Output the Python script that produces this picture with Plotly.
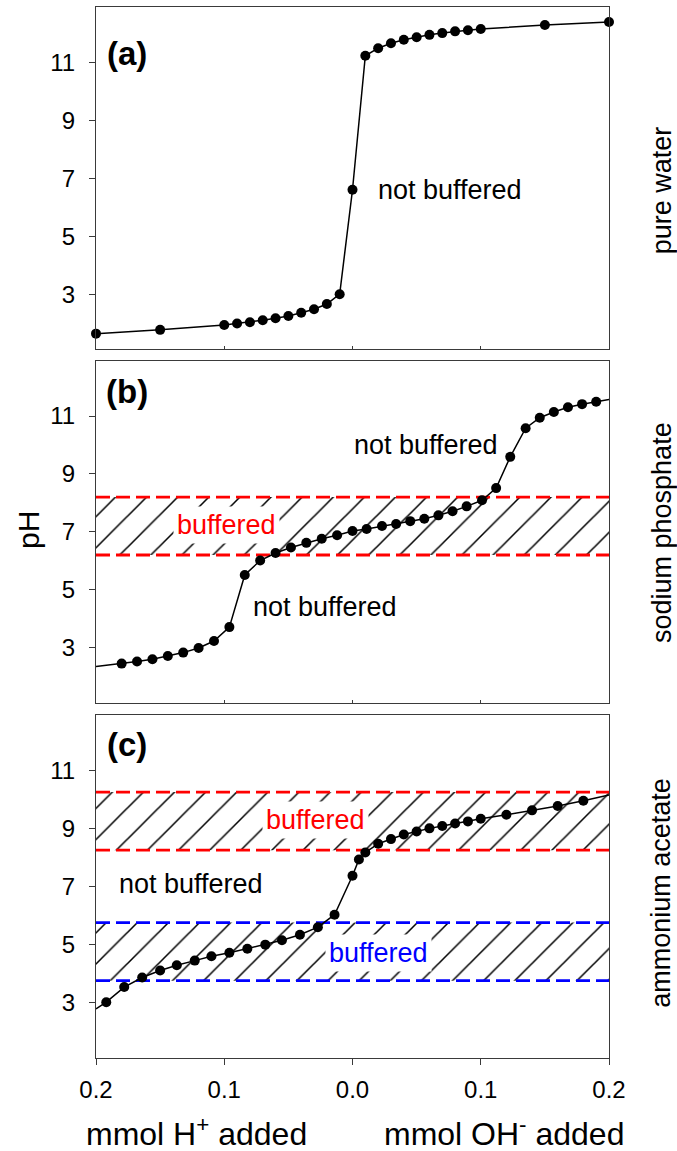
import plotly.graph_objects as go

# ---------------- data ----------------
# x: mmol added (negative = H+ added, positive = OH- added)
a_x = [-0.20, -0.15, -0.10, -0.09, -0.08, -0.07, -0.06, -0.05, -0.04, -0.03, -0.02, -0.01,
       0.00, 0.01, 0.02, 0.03, 0.04, 0.05, 0.06, 0.07, 0.08, 0.09, 0.10, 0.15, 0.20]
a_ph = [1.64, 1.77, 1.94, 1.99, 2.03, 2.10, 2.17, 2.25, 2.36, 2.48, 2.66, 3.00,
        6.60, 11.22, 11.48, 11.65, 11.77, 11.86, 11.94, 12.00, 12.06, 12.10, 12.14, 12.28, 12.38]

b_x = [-0.200, -0.180, -0.168, -0.156, -0.144, -0.132, -0.120, -0.108, -0.096, -0.084,
       -0.072, -0.060, -0.048, -0.036, -0.024, -0.012, 0.000, 0.011, 0.023, 0.034,
       0.045, 0.056, 0.067, 0.078, 0.089, 0.101, 0.112, 0.123, 0.135, 0.146,
       0.157, 0.168, 0.179, 0.190, 0.200]
b_ph = [2.35, 2.45, 2.52, 2.60, 2.71, 2.83, 2.99, 3.23, 3.71, 5.51,
        6.01, 6.27, 6.46, 6.62, 6.76, 6.88, 7.03, 7.10, 7.20, 7.27,
        7.37, 7.45, 7.57, 7.71, 7.88, 8.09, 8.51, 9.59, 10.58, 10.94,
        11.14, 11.30, 11.41, 11.49, 11.57]

c_x = [-0.200, -0.192, -0.178, -0.164, -0.150, -0.137, -0.123, -0.110, -0.096, -0.082,
       -0.068, -0.055, -0.041, -0.027, -0.014, 0.000, 0.005, 0.010, 0.020, 0.030,
       0.040, 0.050, 0.060, 0.070, 0.080, 0.090, 0.100, 0.120, 0.140, 0.160,
       0.180, 0.200]
c_ph = [2.79, 3.02, 3.54, 3.87, 4.11, 4.29, 4.45, 4.60, 4.72, 4.86,
        5.00, 5.15, 5.34, 5.60, 6.03, 7.37, 7.93, 8.17, 8.47, 8.63,
        8.79, 8.89, 9.00, 9.08, 9.17, 9.24, 9.33, 9.47, 9.62, 9.77,
        9.95, 10.15]

# buffer bands (low pH, high pH, colour)
b_bands = [(6.2, 8.2, "#ff0000")]
c_bands = [(8.25, 10.25, "#ff0000"), (3.76, 5.76, "#0000ff")]

x_ticks = [-0.2, -0.1, 0.0, 0.1, 0.2]
x_ticktext = ["0.2", "0.1", "0.0", "0.1", "0.2"]
y_ticks = [3, 5, 7, 9, 11]
x_range = [-0.2, 0.2]
y_range = [1.1, 12.9]

panel_letters = ["(a)", "(b)", "(c)"]
side_labels = ["pure water", "sodium phosphate", "ammonium acetate"]

FONT = "Liberation Sans, Arial, sans-serif"

fig = go.Figure()


def refs(n):
    return ("x" if n == 1 else f"x{n}"), ("y" if n == 1 else f"y{n}")


def add_band(lo, hi, color, n):
    xa, ya = refs(n)
    fig.add_trace(go.Scatter(
        x=[x_range[0], x_range[1], x_range[1], x_range[0], x_range[0]],
        y=[lo, lo, hi, hi, lo], mode="none", fill="toself",
        fillcolor="rgba(0,0,0,0)",
        fillpattern=dict(shape="/", fgcolor="black", bgcolor="rgba(0,0,0,0)",
                         size=22, solidity=0.07, fillmode="replace"),
        xaxis=xa, yaxis=ya, hoverinfo="skip", showlegend=False))
    for v in (lo, hi):
        fig.add_trace(go.Scatter(
            x=x_range, y=[v, v], mode="lines",
            line=dict(color=color, width=2.8, dash="14px,6px"),
            xaxis=xa, yaxis=ya, hoverinfo="skip", showlegend=False, cliponaxis=False))


def add_curve(xs, ys, n, mark_ends):
    xa, ya = refs(n)
    fig.add_trace(go.Scatter(x=xs, y=ys, mode="lines",
                             line=dict(color="black", width=1.5),
                             xaxis=xa, yaxis=ya, showlegend=False, cliponaxis=False))
    mx = xs if mark_ends else xs[1:-1]
    my = ys if mark_ends else ys[1:-1]
    fig.add_trace(go.Scatter(x=mx, y=my, mode="markers",
                             marker=dict(color="black", size=10),
                             xaxis=xa, yaxis=ya, showlegend=False, cliponaxis=False))


for lo, hi, col in b_bands:
    add_band(lo, hi, col, 2)
for lo, hi, col in c_bands:
    add_band(lo, hi, col, 3)

add_curve(a_x, a_ph, 1, True)
add_curve(b_x, b_ph, 2, False)
add_curve(c_x, c_ph, 3, False)

# layout geometry
W, H = 677, 1151
ml, mr, mt, mb = 96, 68, 7, 93
PH = H - mt - mb  # 1051


def py(sy):  # pixel y -> paper fraction
    return (1058 - sy) / PH


def px(sx):  # pixel x -> paper fraction
    return (sx - 96) / 513


domains = [[py(349.3), 1.0], [py(702.7), py(361)], [0.0, py(715)]]

axis_line = "#3a3a3a"
layout = dict(width=W, height=H, margin=dict(l=ml, r=mr, t=mt, b=mb, autoexpand=False),
              plot_bgcolor="white", paper_bgcolor="white",
              font=dict(family=FONT, color="black"), showlegend=False)
for i in range(3):
    n = i + 1
    xk = "xaxis" if n == 1 else f"xaxis{n}"
    yk = "yaxis" if n == 1 else f"yaxis{n}"
    last = (n == 3)
    layout[xk] = dict(domain=[0, 1], anchor="y" if n == 1 else f"y{n}",
                      range=x_range, showgrid=False, zeroline=False,
                      showline=True, mirror=True, linecolor=axis_line, linewidth=1,
                      tickvals=x_ticks, ticktext=x_ticktext,
                      ticks="outside" if last else "inside",
                      ticklen=6 if last else 3, tickcolor=axis_line,
                      showticklabels=last, tickfont=dict(size=24, family=FONT),
                      ticklabelstandoff=4)
    layout[yk] = dict(domain=domains[i], anchor="x" if n == 1 else f"x{n}",
                      range=y_range, showgrid=False, zeroline=False,
                      showline=True, mirror=True, linecolor=axis_line, linewidth=1,
                      tickvals=y_ticks, ticks="outside", ticklen=6, tickcolor=axis_line,
                      tickfont=dict(size=24, family=FONT), ticklabelstandoff=9)
fig.update_layout(**layout)

ann = []


def t(text, x, y, n, size=27, color="black", bg=None):
    xa, ya = refs(n)
    d = dict(text=text, x=x, y=y, xref=xa, yref=ya, showarrow=False,
             xanchor="center", yanchor="middle",
             font=dict(size=size, color=color, family=FONT))
    if bg:
        d["bgcolor"] = bg
        d["borderpad"] = 3
    ann.append(d)


# panel letters
for n, (lab, yv) in enumerate(zip(panel_letters, [11.3, 11.85, 11.87]), start=1):
    t(f"<b>{lab}</b>", -0.1755, yv, n, size=33)

t("not buffered", 0.0761, 6.58, 1)
t("not buffered", 0.0574, 10.01, 2)
t("buffered", -0.0986, 7.24, 2, color="#ff0000", bg="white")
t("not buffered", -0.0216, 4.40, 2)
t("buffered", -0.0285, 9.29, 3, color="#ff0000", bg="white")
t("not buffered", -0.1259, 7.10, 3)
t("buffered", 0.0204, 4.72, 3, color="#0000ff", bg="white")

# side labels
for lab, sy in zip(side_labels, [190.8, 532.5, 893.3]):
    ann.append(dict(text=lab, x=px(661.5), y=py(sy), xref="paper", yref="paper",
                    showarrow=False, textangle=-90, xanchor="center", yanchor="middle",
                    font=dict(size=27, family=FONT)))

# y title
ann.append(dict(text="pH", x=px(28), y=py(530), xref="paper", yref="paper",
                showarrow=False, textangle=-90, xanchor="center", yanchor="middle",
                font=dict(size=30, family=FONT)))
# x titles
ann.append(dict(text="mmol H<sup>+</sup> added", x=px(196), y=py(1132),
                xref="paper", yref="paper", showarrow=False, xanchor="center",
                yanchor="middle", font=dict(size=32, family=FONT)))
ann.append(dict(text="mmol OH<sup>-</sup> added", x=px(504), y=py(1132),
                xref="paper", yref="paper", showarrow=False, xanchor="center",
                yanchor="middle", font=dict(size=32, family=FONT)))

fig.update_layout(annotations=ann)
fig.write_html("out.html", config={"displayModeBar": False},
               post_script="document.body.style.margin='0';"
                           "document.body.style.overflow='hidden';")
